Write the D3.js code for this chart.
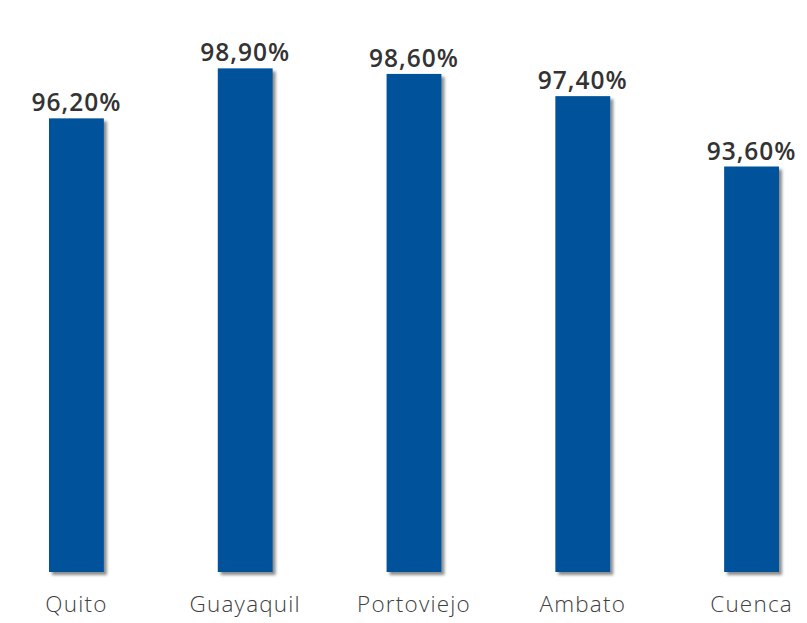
<!DOCTYPE html>
<html>
<head>
<meta charset="utf-8">
<script src="https://cdn.jsdelivr.net/npm/d3@7"></script>
<style>
  html, body { margin: 0; padding: 0; background: #ffffff; }
  svg { display: block; }
</style>
</head>
<body>
<svg id="chart" width="807" height="623"></svg>
<script>
// Cities and their share (%)
const categories = ["Quito", "Guayaquil", "Portoviejo", "Ambato", "Cuenca"];
const values = [96.2, 98.9, 98.6, 97.4, 93.6];
const valueLabels = ["96,20%", "98,90%", "98,60%", "97,40%", "93,60%"];

const svg = d3.select("#chart");

const x = d3.scaleBand()
  .domain(categories)
  .range([49, 779])
  .paddingInner(0.675)
  .paddingOuter(0);

const y = d3.scaleLinear()
  .domain([71.7, 100])
  .range([572, 48]);

// Soft drop shadow under each bar
const defs = svg.append("defs");
const f = defs.append("filter").attr("id", "shadow")
  .attr("x", "-20%").attr("y", "-5%").attr("width", "150%").attr("height", "115%");
f.append("feDropShadow")
  .attr("dx", 3).attr("dy", 3).attr("stdDeviation", 1.6)
  .attr("flood-color", "#000").attr("flood-opacity", 0.45);

const data = categories.map((c, i) => ({ c, v: values[i], label: valueLabels[i] }));

svg.append("g").selectAll("rect").data(data).join("rect")
  .attr("x", d => x(d.c))
  .attr("y", d => y(d.v))
  .attr("width", x.bandwidth())
  .attr("height", d => y.range()[0] - y(d.v))
  .attr("fill", "#00529b")
  .attr("filter", "url(#shadow)");

// Value labels above bars
svg.append("g").selectAll("text").data(data).join("text")
  .attr("x", d => x(d.c) + x.bandwidth() / 2)
  .attr("y", d => y(d.v) - 7)
  .attr("text-anchor", "middle")
  .attr("font-family", "'Open Sans', sans-serif")
  .attr("font-weight", 600)
  .attr("font-size", 24.5)
  .attr("letter-spacing", 1)
  .attr("fill", "#333333")
  .text(d => d.label);

// Category axis (labels only)
const xAxis = svg.append("g")
  .attr("transform", `translate(0,${y.range()[0]})`)
  .call(d3.axisBottom(x).tickSize(0).tickPadding(24));
xAxis.select(".domain").remove();
xAxis.selectAll("text")
  .attr("font-family", "'Open Sans', sans-serif")
  .attr("font-weight", 300)
  .attr("font-size", 22.5)
  .attr("letter-spacing", 1.2)
  .attr("fill", "#404040");
</script>
</body>
</html>
